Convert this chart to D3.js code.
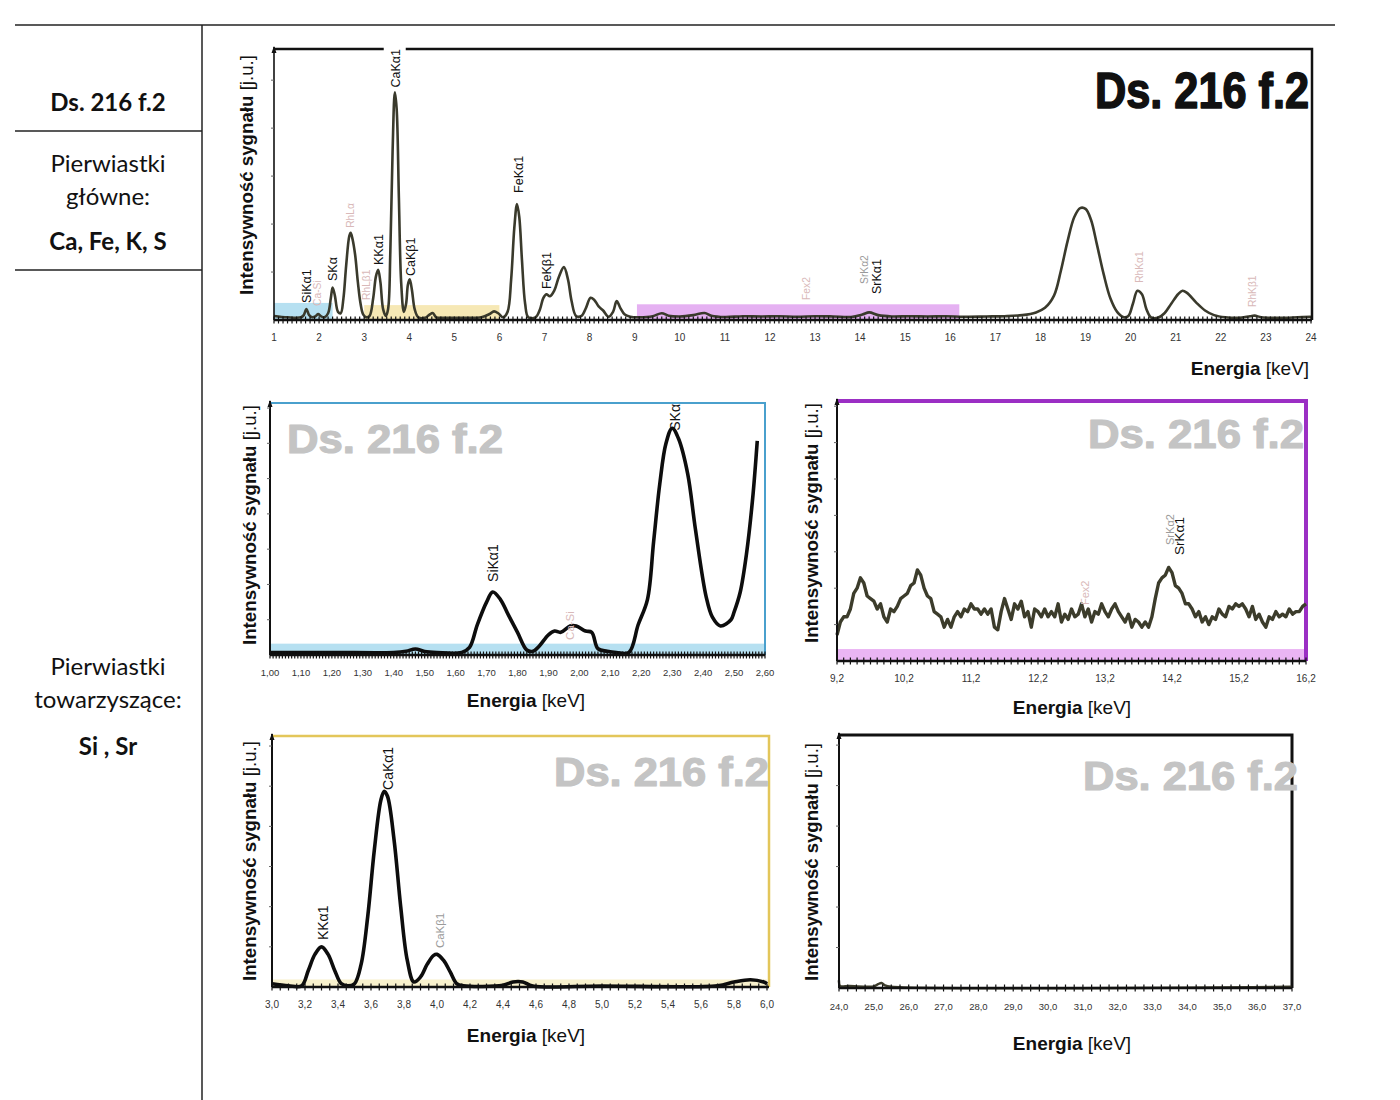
<!DOCTYPE html>
<html><head><meta charset="utf-8">
<script src="https://cdn.jsdelivr.net/npm/d3@7"></script>
<style>body{margin:0;background:#fff} svg{display:block}</style>
</head><body>
<svg id="c" width="1400" height="1100"></svg>
<script>
// ---------------- DATA ----------------
// Overview spectrum 1–24 keV: [energy keV, intensity (a.u., 0–100 of axis height)]
const overviewSpectrum = [[1.00,1.5],[1.3,1.0],[1.6,1.0],[1.66,1.8],[1.72,4.0],[1.78,1.8],[1.85,1.0],[1.93,1.5],[1.98,2.2],[2.04,1.4],[2.12,1.0],[2.2,2.5],[2.26,8],[2.30,12],[2.35,9],[2.42,3],[2.48,2.5],[2.54,8],[2.60,20],[2.67,31],[2.70,32.2],[2.74,30],[2.80,24],[2.86,14],[2.92,6],[2.98,2],[3.05,1],[3.12,1.5],[3.2,8],[3.26,16],[3.31,18.5],[3.36,14],[3.42,4],[3.48,1.5],[3.53,4],[3.58,25],[3.63,62],[3.68,84],[3.72,78],[3.77,45],[3.82,14],[3.88,3],[3.93,6],[3.97,13],[4.01,15],[4.06,11],[4.12,4],[4.2,1],[4.35,0.8],[4.45,2],[4.52,2.6],[4.6,1],[4.8,0.8],[5.2,0.8],[5.6,1],[5.78,2.2],[5.88,3.2],[5.98,2.4],[6.08,1],[6.18,3],[6.26,15],[6.33,34],[6.39,42.8],[6.44,38],[6.5,22],[6.57,6],[6.64,1],[6.8,1],[6.9,4],[6.97,8],[7.04,9.5],[7.12,8.8],[7.22,11],[7.32,16],[7.43,19.5],[7.52,15],[7.6,7],[7.7,1.5],[7.82,1.5],[7.92,4.5],[8.02,8.2],[8.1,7.5],[8.2,5],[8.3,3.5],[8.42,1.2],[8.52,3],[8.6,7],[8.68,4.5],[8.78,2],[8.9,1.2],[9.1,1],[9.4,1.4],[9.6,2.5],[9.75,1.6],[10.0,1.3],[10.3,1.8],[10.55,2.6],[10.7,1.6],[11.0,1.1],[11.4,1.4],[11.8,1.3],[12.2,1.4],[12.6,1.2],[13.0,1.4],[13.4,1.3],[13.8,1.1],[14.05,2.0],[14.2,2.8],[14.4,1.8],[14.7,1.3],[15.1,1.4],[15.5,1.3],[15.9,1.4],[16.3,1.2],[16.8,1.3],[17.2,1.4],[17.6,1.8],[17.9,2.8],[18.1,4.5],[18.3,9],[18.45,18],[18.6,29],[18.75,38],[18.88,41.3],[19.0,41],[19.12,37],[19.25,28],[19.4,17],[19.55,8],[19.7,3],[19.85,1],[19.95,1.5],[20.05,6],[20.15,10.8],[20.25,9.5],[20.35,4],[20.45,1],[20.6,0.8],[20.75,2.5],[20.9,6],[21.05,9.5],[21.15,10.8],[21.25,10],[21.45,6.5],[21.65,3.5],[21.85,1.8],[22.1,1],[22.4,0.8],[22.65,1.4],[22.75,1.6],[22.9,1],[23.3,0.8],[23.7,1],[24.0,1.2]];
const overviewTicks = [1,2,3,4,5,6,7,8,9,10,11,12,13,14,15,16,17,18,19,20,21,22,23,24];
// highlighted energy windows in the overview: [from, to, height a.u., colour key]
const overviewWindows = [[1.0,2.3,6.3,"blue"],[3.0,6.0,5.5,"yellow"],[9.05,16.2,5.8,"purple"]];
// peak labels: [text, energy, label foot a.u., kind]
const overviewLabels = [["SiKα1",1.72,6.3,"main"],["Ca-Si",1.97,5.2,"faint"],["SKα",2.30,14.4,"main"],["RhLα",2.70,34,"faint"],["RhLβ1",3.04,7.4,"faint"],["KKα1",3.31,20.3,"main"],["CaKα1",3.70,85.8,"main"],["CaKβ1",4.02,16.2,"main"],["FeKα1",6.42,46.9,"main"],["FeKβ1",7.05,11.4,"main"],["Fex2",12.8,7.4,"faint"],["SrKα2",14.1,13.3,"grey"],["SrKα1",14.36,9.6,"main"],["RhKα1",20.2,13.7,"faint"],["RhKβ1",22.7,4.8,"faint"]];

// Zoom 1.0–2.6 keV
const siSpectrum = [[1.00,1],[1.20,1],[1.40,1],[1.44,1.5],[1.47,2.4],[1.50,1.4],[1.54,1],[1.62,1],[1.645,3],[1.67,12],[1.70,21],[1.72,25],[1.745,22],[1.77,16],[1.80,9],[1.83,2],[1.85,1.5],[1.87,3.5],[1.90,8],[1.92,9.5],[1.94,9],[1.97,11.5],[1.99,11.5],[2.02,9.5],[2.04,9],[2.06,2.5],[2.09,1.5],[2.12,1],[2.16,1],[2.19,12],[2.22,22],[2.24,45],[2.26,68],[2.28,84],[2.30,90],[2.32,86],[2.35,72],[2.375,50],[2.41,23],[2.43,15],[2.456,11.5],[2.49,14],[2.50,17],[2.52,25],[2.54,40],[2.56,62],[2.575,85]];
const siTicks = [1.0,1.1,1.2,1.3,1.4,1.5,1.6,1.7,1.8,1.9,2.0,2.1,2.2,2.3,2.4,2.5,2.6];
const siLabels = [["SiKα1",1.72,29,"main"],["Ca-Si",1.97,6,"faint"],["SKα",2.31,89,"main"]];

// Zoom 9.2–16.2 keV
const srSpectrum = [[9.20,10],[9.25,15],[9.30,17],[9.35,17],[9.40,20],[9.45,26],[9.50,28],[9.55,32],[9.60,30],[9.65,25],[9.70,24],[9.75,23],[9.80,20],[9.85,22],[9.90,17],[9.95,15],[10.00,20],[10.05,19],[10.10,21],[10.15,24],[10.20,25],[10.25,26],[10.30,29],[10.35,30],[10.40,35],[10.45,33],[10.50,28],[10.55,25],[10.60,24],[10.65,19],[10.70,18],[10.75,17],[10.80,13],[10.85,16],[10.90,13],[10.95,17],[11.00,19],[11.05,17],[11.10,20],[11.15,19],[11.20,22],[11.25,20],[11.30,20],[11.35,18],[11.40,20],[11.45,18],[11.50,20],[11.55,13],[11.60,12],[11.65,19],[11.70,24],[11.75,20],[11.80,16],[11.85,22],[11.90,20],[11.95,23],[12.00,17],[12.05,19],[12.10,13],[12.15,20],[12.20,19],[12.25,17],[12.30,20],[12.35,17],[12.40,19],[12.45,17],[12.50,22],[12.55,15],[12.60,18],[12.65,16],[12.70,20],[12.75,17],[12.80,18],[12.85,22],[12.90,17],[12.95,20],[13.00,15],[13.05,19],[13.10,18],[13.15,22],[13.20,19],[13.25,17],[13.30,20],[13.35,22],[13.40,19],[13.45,17],[13.50,15],[13.55,18],[13.60,13],[13.65,16],[13.70,15],[13.75,13],[13.80,15],[13.85,13],[13.90,17],[13.95,24],[14.00,30],[14.05,32],[14.10,33],[14.15,36],[14.20,34],[14.25,29],[14.30,28],[14.35,26],[14.40,22],[14.45,22],[14.50,20],[14.55,17],[14.60,19],[14.65,15],[14.70,17],[14.75,14],[14.80,17],[14.85,16],[14.90,20],[14.95,18],[15.00,17],[15.05,21],[15.10,20],[15.15,22],[15.20,21],[15.25,22],[15.30,20],[15.35,17],[15.40,21],[15.45,16],[15.50,18],[15.55,15],[15.60,13],[15.65,17],[15.70,16],[15.75,19],[15.80,17],[15.85,18],[15.90,17],[15.95,20],[16.00,18],[16.05,19],[16.10,19],[16.15,21],[16.20,22]];
const srTicks = [9.2,10.2,11.2,12.2,13.2,14.2,15.2,16.2];
const srLabels = [["SrKα2",14.17,44.6,"grey"],["SrKα1",14.3,40.8,"main"],["Fex2",12.9,21.5,"faint"]];

// Zoom 3.0–6.0 keV
const caSpectrum = [[3.0,1.3],[3.1,0.5],[3.18,0.5],[3.22,6.6],[3.26,13],[3.30,16],[3.34,13],[3.38,6.6],[3.42,1.3],[3.46,0.5],[3.50,1.3],[3.54,9],[3.58,28],[3.62,54.5],[3.66,74.5],[3.68,78],[3.70,76],[3.74,58.5],[3.78,32],[3.82,10.6],[3.86,2],[3.90,4],[3.94,9],[3.98,12.6],[4.00,13],[4.04,10.6],[4.08,6],[4.12,1.3],[4.16,0.5],[4.40,0.7],[4.46,2],[4.52,2],[4.58,0.4],[5.0,0.4],[5.7,0.5],[5.8,2],[5.9,2.9],[5.98,2],[6.0,1.3]];
const caTicks = [3.0,3.2,3.4,3.6,3.8,4.0,4.2,4.4,4.6,4.8,5.0,5.2,5.4,5.6,5.8,6.0];
const caLabels = [["KKα1",3.31,18.7,"main"],["CaKα1",3.70,78.5,"main"],["CaKβ1",4.02,15.5,"grey"]];

// Zoom 24–37 keV
const highSpectrum = [[24.0,3],[24.03,0.8],[24.3,0.8],[25.0,0.6],[25.12,1.5],[25.22,2],[25.32,1],[25.5,0.5],[37,0.5]];
const highTicks = [24,25,26,27,28,29,30,31,32,33,34,35,36,37];

// ---------------- DRAWING ----------------
const svg = d3.select("#c");
const SANS = "'Liberation Sans', Arial, sans-serif";
const plFormat = d3.formatLocale({decimal:",",thousands:" ",grouping:[3],currency:["",""]});
const f2 = plFormat.format(".2f"), f1 = plFormat.format(".1f"), f0 = d3.format("d");

// Left table
const tbl = svg.append("g").attr("fill","#111").style("font-family","Lato, 'Open Sans', sans-serif");
tbl.append("line").attr("x1",15).attr("x2",1335).attr("y1",25).attr("y2",25).attr("stroke","#222").attr("stroke-width",1.5);
tbl.append("line").attr("x1",202).attr("x2",202).attr("y1",25).attr("y2",1100).attr("stroke","#222").attr("stroke-width",1.5);
[131,270].forEach(yy=>tbl.append("line").attr("x1",15).attr("x2",202).attr("y1",yy).attr("y2",yy).attr("stroke","#222").attr("stroke-width",1.5));
const tableText = [["Ds. 216 f.2",111,700],["Pierwiastki",172,400],["główne:",205,400],["Ca, Fe, K, S",250,700],["Pierwiastki",675,400],["towarzyszące:",708,400],["Si , Sr",755,700]];
tableText.forEach(t=>tbl.append("text").attr("x",108).attr("y",t[1]).attr("text-anchor","middle").attr("font-size",24).attr("font-weight",t[2]).text(t[0]));

const bandColors = {blue:"#a9dbef", yellow:"#f4e4a8", purple:"#e0a3f0", pink:"#e6a8f2", paleyellow:"#f7efc4"};

function rotLabel(g, x, y, l, size){
  const col = l[3]==="main" ? "#111" : (l[3]==="grey" ? "#9a9a9a" : "#d9b9b9");
  const fs = l[3]==="main" ? size : size*0.82;
  g.append("text").attr("transform",`translate(${x(l[1])},${y(l[2])}) rotate(-90)`)
    .attr("dy","0.36em").attr("font-size",fs).attr("fill",col)
    .style("font-family",SANS).text(l[0]);
}

function axisTitles(g, cx, by, lx, ly, len){
  const t = g.append("text").attr("x",cx).attr("y",by).attr("text-anchor","middle")
    .style("font-family",SANS).attr("font-size",19).attr("fill","#111");
  t.append("tspan").attr("font-weight","bold").text("Energia");
  t.append("tspan").text(" [keV]");
  const yl = g.append("text").attr("transform",`translate(${lx},${ly}) rotate(-90)`).attr("text-anchor","middle")
    .style("font-family",SANS).attr("font-size",18).attr("fill","#111")
    .attr("textLength",len).attr("lengthAdjust","spacingAndGlyphs");
  yl.append("tspan").attr("font-weight","bold").text("Intensywność sygnału ");
  yl.append("tspan").text("[j.u.]");
}

function panel(c){
  const g = svg.append("g");
  const x = d3.scaleLinear().domain(c.domain).range([c.left, c.right]);
  const y = d3.scaleLinear().domain([0,100]).range([c.base, c.top]);
  // colored bands
  (c.bands||[]).forEach(b=>{
    g.append("rect").attr("x",x(b[0])).attr("width",x(b[1])-x(b[0]))
      .attr("y",y(b[2])).attr("height",y(0)-y(b[2])).attr("fill",bandColors[b[3]]).attr("opacity",0.85);
  });
  // frame (top + right) in panel colour
  const fr = c.frameRight || c.right;
  g.append("path").attr("d",`M${c.left},${c.top}H${fr}V${c.base}`).attr("fill","none")
    .attr("stroke",c.frameColor).attr("stroke-width",c.frameWidth);
  // watermark / title
  if(c.mark){
    g.append("text").attr("x",c.mark.x).attr("y",c.mark.y).attr("font-size",c.mark.size)
      .attr("font-weight","bold").attr("fill",c.mark.color)
      .attr("stroke",c.mark.color).attr("stroke-width",c.mark.stroke).attr("stroke-linejoin","round")
      .style("font-family",SANS)
      .attr("textLength",c.mark.len).attr("lengthAdjust","spacingAndGlyphs").text("Ds. 216 f.2");
  }
  // spectrum line
  const line = d3.line().x(d=>x(d[0])).y(d=>y(d[1])).curve(c.curve || d3.curveCatmullRom.alpha(0.5));
  g.append("path").datum(c.data).attr("d",line).attr("fill","none")
    .attr("stroke",c.lineColor).attr("stroke-width",c.lineWidth).attr("stroke-linejoin","round");
  // baseline with dense minor ticks
  g.append("line").attr("x1",c.left).attr("x2",fr).attr("y1",c.base).attr("y2",c.base)
    .attr("stroke","#111").attr("stroke-width",2.6);
  const minor = d3.range(c.domain[0], c.domain[1]+c.minorStep/2, c.minorStep);
  g.append("g").selectAll("line").data(minor).join("line")
    .attr("x1",d=>x(d)).attr("x2",d=>x(d)).attr("y1",c.base-3.5).attr("y2",c.base+3.5)
    .attr("stroke","#111").attr("stroke-width",1.2);
  // tick labels
  g.append("g").selectAll("text").data(c.ticks).join("text")
    .attr("x",d=>x(d)).attr("y",c.base+c.tickDy).attr("text-anchor","middle")
    .attr("font-size",c.tickSize||10).attr("fill","#333")
    .style("font-family",SANS).text(c.fmt);
  // y axis with arrow and small ticks
  g.append("line").attr("x1",c.left).attr("x2",c.left).attr("y1",c.base).attr("y2",c.top-2)
    .attr("stroke","#111").attr("stroke-width",c.axisWidth||2);
  g.append("path").attr("d",`M${c.left-2.5},${c.top+4}L${c.left},${c.top-3}L${c.left+2.5},${c.top+4}Z`).attr("fill","#111");
  g.append("g").selectAll("line").data(d3.range(c.yStep,100,c.yStep)).join("line")
    .attr("x1",c.left-3).attr("x2",c.left).attr("y1",d=>y(d)).attr("y2",d=>y(d))
    .attr("stroke","#666").attr("stroke-width",1);
  // peak labels
  (c.labels||[]).forEach(l=>{
    if(c.gapFor && l[0]===c.gapFor){
      g.append("rect").attr("x",x(l[1])-12).attr("width",22).attr("y",c.top-3).attr("height",6).attr("fill","#fff");
    }
    rotLabel(g,x,y,l,c.labelSize);
  });
  axisTitles(g, c.title.cx, c.title.by, c.title.lx, c.title.ly, c.title.len);
  return g;
}

// Overview
panel({domain:[1,24], left:274, right:1311, frameRight:1312, top:49, base:320,
  data:overviewSpectrum, ticks:overviewTicks, fmt:f0, tickDy:21, tickSize:10, minorStep:0.1,
  bands:overviewWindows, frameColor:"#111", frameWidth:2.5, lineColor:"#3a3a2c", lineWidth:2.6,
  labels:overviewLabels, labelSize:12.5, gapFor:"CaKα1", yStep:17.7, axisWidth:1.6,
  mark:{x:1095,y:108,size:50,len:214,color:"#111",stroke:1.6},
  title:{cx:1250,by:375,lx:253,ly:175,len:240}});

// Si/S window
panel({domain:[1.0,2.6], left:270, right:765, top:403, base:655,
  data:siSpectrum, ticks:siTicks, fmt:f2, tickDy:21, tickSize:9.5, minorStep:0.01,
  bands:[[1.0,2.6,4.5,"blue"]], frameColor:"#4aa0cd", frameWidth:2, lineColor:"#0d0d0d", lineWidth:3.6,
  labels:siLabels, labelSize:14, yStep:14,
  mark:{x:287,y:453,size:40,len:216,color:"#c4c4c4",stroke:1.2},
  title:{cx:526,by:707,lx:256,ly:525,len:240}});

// Sr window
panel({domain:[9.2,16.2], left:837, right:1306, top:401, base:661,
  data:srSpectrum, ticks:srTicks, fmt:f1, tickDy:21, tickSize:10, minorStep:0.1,
  bands:[[9.2,16.2,4.6,"pink"]], frameColor:"#9b2fc4", frameWidth:4, lineColor:"#3c3c2b", lineWidth:3.4,
  curve:d3.curveLinear, labels:srLabels, labelSize:13.5, yStep:14,
  mark:{x:1088,y:448,size:40,len:216,color:"#c4c4c4",stroke:1.2},
  title:{cx:1072,by:714,lx:818,ly:523,len:240}});

// Ca/K window
panel({domain:[3.0,6.0], left:272, right:767, frameRight:769, top:736, base:987,
  data:caSpectrum, ticks:caTicks, fmt:f1, tickDy:21, tickSize:10, minorStep:0.05,
  bands:[[3.0,6.0,3,"paleyellow"]], frameColor:"#e3c65a", frameWidth:2.5, lineColor:"#0d0d0d", lineWidth:3.6,
  labels:caLabels, labelSize:14, yStep:16,
  mark:{x:554,y:786,size:40,len:215,color:"#c4c4c4",stroke:1.2},
  title:{cx:526,by:1042,lx:256,ly:861,len:240}});

// High energy window
panel({domain:[24,37], left:839, right:1292, top:735, base:988,
  data:highSpectrum, ticks:highTicks, fmt:f1, tickDy:22, tickSize:9.5, minorStep:0.25,
  frameColor:"#111", frameWidth:3, lineColor:"#3c3c2b", lineWidth:2.5,
  labels:[], labelSize:13, yStep:16,
  mark:{x:1083,y:790,size:40,len:215,color:"#c4c4c4",stroke:1.2},
  title:{cx:1072,by:1050,lx:818,ly:862,len:238}});
</script>
</body></html>
